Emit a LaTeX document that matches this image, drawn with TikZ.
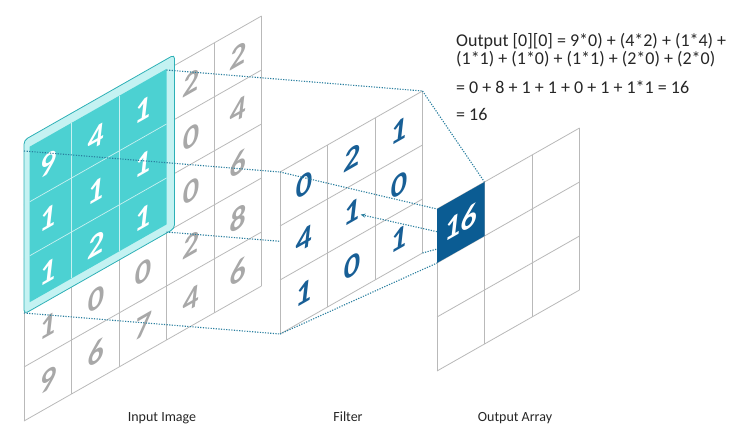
\documentclass[tikz,border=0pt]{standalone}
\usepackage{fontspec}
\setmainfont{Carlito}
\usetikzlibrary{arrows.meta}
\definecolor{gridgray}{HTML}{B9B9B9}
\definecolor{numgray}{HTML}{A8A8A8}
\definecolor{tealface}{HTML}{4CD1D2}
\definecolor{tealrim}{HTML}{C4F2F2}
\definecolor{tealline}{HTML}{2DB0B6}
\definecolor{filterblue}{HTML}{185F96}
\definecolor{cellblue}{HTML}{0B5C93}
\definecolor{linkblue}{HTML}{2A7F9F}
\definecolor{labelgray}{HTML}{262626}

\begin{document}
\begin{tikzpicture}[x=1pt,y=-1pt,
  skewgrid/.style={x={(47.5pt,27pt)},y={(0pt,-54pt)}},
  gridline/.style={draw=gridgray,line width=.8pt},
  digit/.style={font=\fontsize{32}{32}\selectfont\bfseries\itshape,yslant=.57,inner sep=1pt},
  link/.style={draw=linkblue,line width=1.1pt,dash pattern=on 1.2pt off 1.4pt},
  eqtext/.style={font=\fontsize{18}{18}\selectfont,text=black!85,anchor=base west,inner sep=0pt},
  gridcaption/.style={font=\fontsize{14}{14}\selectfont,text=labelgray,anchor=base}]
\useasboundingbox (0,0) rectangle (750,442);

\begin{scope}[shift={(24,151)},skewgrid]
  \foreach \i in {0,...,5} {
    \draw[gridline] (\i,0) -- (\i,5);
    \draw[gridline] (0,\i) -- (5,\i);
  }
  \draw[tealline,fill=tealrim,line width=.8pt,rounded corners=4pt] (0,-.2) -- (3.17,-.2) -- (3.17,3.02) -- (0,3.02) -- cycle;
  \fill[tealface] (.12,-.02) -- (3,-.02) -- (3,2.86) -- (.12,2.86) -- cycle;
  \foreach \i in {1,2} {
    \draw[white!70!tealface,line width=.7pt] (\i,-.02) -- (\i,2.86);
    \draw[white!70!tealface,line width=.7pt] (.12,\i) -- (3,\i);
  }
  \foreach \row [count=\r] in {{9,4,1,2,2},{1,1,1,0,4},{1,2,1,0,6},{1,0,0,2,8},{9,6,7,4,6}}
    \foreach \v [count=\c] in \row {
      \ifnum\r<4 \ifnum\c<4 \def\tone{white}\else\def\tone{numgray}\fi \else\def\tone{numgray}\fi
      \node (in-\r-\c) [digit,text=\tone] at (\c-.5,\r-.5) {\v};
    }
  \coordinate (inNW) at (0,0);
  \coordinate (inNE) at (3,0);
  \coordinate (inSE) at (3,3);
  \coordinate (inSW) at (0,3);
\end{scope}

\begin{scope}[shift={(280,172)},skewgrid]
  \coordinate (fNW) at (0,0);
  \coordinate (fNE) at (3,0);
  \coordinate (fSE) at (3,3);
  \coordinate (fSW) at (0,3);
  \draw[link] (inNW) -- (fNW);
  \draw[link] (inNE) -- (fNE);
  \draw[link] (inSE) -- (fSE);
  \draw[link] (inSW) -- (fSW);
  \fill[white] (0,0) -- (3,0) -- (3,3) -- (0,3) -- cycle;
  \foreach \i in {0,...,3} {
    \draw[gridline] (\i,0) -- (\i,3);
    \draw[gridline] (0,\i) -- (3,\i);
  }
  \foreach \row [count=\r] in {{0,2,1},{4,1,0},{1,0,1}}
    \foreach \v [count=\c] in \row
      \node (f-\r-\c) [digit,text=filterblue] at (\c-.5,\r-.5) {\v};
\end{scope}

\begin{scope}[shift={(437,209)},skewgrid]
  \coordinate (oNW) at (0,0);
  \coordinate (oNE) at (1,0);
  \coordinate (oSE) at (1,1);
  \coordinate (oSW) at (0,1);
  \coordinate (oW) at (0,.42);
  \draw[link] (fNW) -- (oNW);
  \draw[link] (fNE) -- (oNE);
  \draw[link] (fSE) -- (oSE);
  \draw[link] (fSW) -- (oSW);
  \fill[white] (0,0) -- (3,0) -- (3,3) -- (0,3) -- cycle;
  \foreach \i in {0,...,3} {
    \draw[gridline] (\i,0) -- (\i,3);
    \draw[gridline] (0,\i) -- (3,\i);
  }
  \fill[cellblue] (0,0) -- (1,0) -- (1,1) -- (0,1) -- cycle;
  \node (out-1-1) [digit,text=white] at (.5,.5) {16};
\end{scope}

\draw[link,-{Stealth[length=5pt,width=4pt]}] (oW) -- (f-2-2);

\node (eqA) [eqtext] at (456,46) {Output [0][0] = 9*0) + (4*2) + (1*4) +};
\node (eqB) [eqtext] at (456,64) {(1*1) + (1*0) + (1*1) + (2*0) + (2*0)};
\node (eqC) [eqtext] at (456,93) {= 0 + 8 + 1 + 1 + 0 + 1 + 1*1 = 16};
\node (eqD) [eqtext] at (456,120) {= 16};

\node (capIn) [gridcaption] at (162,421) {Input Image};
\node (capFilter) [gridcaption] at (348,421) {Filter};
\node (capOut) [gridcaption] at (515,421) {Output Array};
\end{tikzpicture}
\end{document}
